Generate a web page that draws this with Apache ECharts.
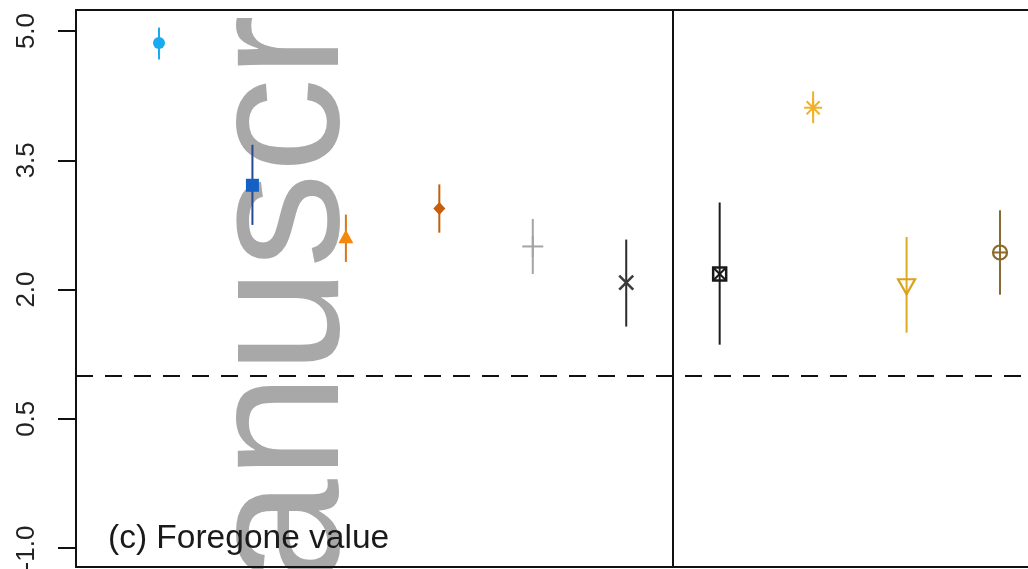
<!DOCTYPE html>
<html>
<head>
<meta charset="utf-8">
<script src="https://cdn.jsdelivr.net/npm/echarts@6/dist/echarts.min.js"></script>
<style>
  html, body { margin: 0; padding: 0; background: #ffffff; overflow: hidden; }
  #chart { width: 1100px; height: 569px; }
</style>
</head>
<body>
<div id="chart"></div>
<script>
// Estimates with lower / upper interval bounds, one entry per group
const positions = [1, 2, 3, 4, 5, 6, 7, 8, 9, 10];
const estimates = [4.86, 3.21, 2.60, 2.94, 2.50, 2.08, 2.18, 4.11, 2.05, 2.43];
const lowerCI   = [4.67, 2.75, 2.32, 2.66, 2.18, 1.57, 1.36, 3.93, 1.50, 1.94];
const upperCI   = [5.04, 3.68, 2.87, 3.22, 2.82, 2.58, 3.01, 4.30, 2.61, 2.92];
const yTicks    = [-1.0, 0.5, 2.0, 3.5, 5.0];
const referenceLevel = 1.0;
const panelSplit = 6.5;
const panelLabel = '(c) Foregone value';
const watermark = 'anuscr';

// Marker appearance per group
const markerStyles = [
  { shape: 'circle',     color: '#1aaaf0', bar: '#1aaaf0' },
  { shape: 'square',     color: '#1560c4', bar: '#274a8c' },
  { shape: 'triUp',      color: '#f5880a', bar: '#d8761a' },
  { shape: 'diamond',    color: '#c85e0c', bar: '#c0600e' },
  { shape: 'plus',       color: '#a4a4a4', bar: '#a4a4a4' },
  { shape: 'cross',      color: '#3c3c3c', bar: '#2c2c2c' },
  { shape: 'boxCross',   color: '#1a1a1a', bar: '#1e1e1e' },
  { shape: 'star',       color: '#f2b022', bar: '#efb030' },
  { shape: 'triDownOpen',color: '#d9a21b', bar: '#e0aa22' },
  { shape: 'circlePlus', color: '#8c6a2a', bar: '#8a6a34' }
];

const seriesData = positions.map((x, i) => [x, estimates[i], lowerCI[i], upperCI[i]]);

function markerGraphics(shape, cx, cy, color) {
  const s = { stroke: color, lineWidth: 2, fill: null };
  switch (shape) {
    case 'circle':
      return [{ type: 'circle', shape: { cx, cy, r: 6 }, style: { fill: color } }];
    case 'square':
      return [{ type: 'rect', shape: { x: cx - 6.5, y: cy - 6.5, width: 13, height: 13 }, style: { fill: color } }];
    case 'triUp':
      return [{ type: 'polygon', shape: { points: [[cx, cy - 8], [cx + 7.5, cy + 5.5], [cx - 7.5, cy + 5.5]] }, style: { fill: color } }];
    case 'diamond':
      return [{ type: 'polygon', shape: { points: [[cx, cy - 6.5], [cx + 6, cy], [cx, cy + 6.5], [cx - 6, cy]] }, style: { fill: color } }];
    case 'plus':
      return [
        { type: 'line', shape: { x1: cx - 10.5, y1: cy, x2: cx + 10.5, y2: cy }, style: s },
        { type: 'line', shape: { x1: cx, y1: cy - 10.5, x2: cx, y2: cy + 10.5 }, style: s }
      ];
    case 'cross':
      return [
        { type: 'line', shape: { x1: cx - 7, y1: cy - 7, x2: cx + 7, y2: cy + 7 }, style: Object.assign({}, s, { lineWidth: 2.5 }) },
        { type: 'line', shape: { x1: cx - 7, y1: cy + 7, x2: cx + 7, y2: cy - 7 }, style: Object.assign({}, s, { lineWidth: 2.5 }) }
      ];
    case 'boxCross':
      return [
        { type: 'rect', shape: { x: cx - 6.5, y: cy - 6.5, width: 13, height: 13 }, style: Object.assign({}, s, { lineWidth: 2.5 }) },
        { type: 'line', shape: { x1: cx - 6.5, y1: cy - 6.5, x2: cx + 6.5, y2: cy + 6.5 }, style: s },
        { type: 'line', shape: { x1: cx - 6.5, y1: cy + 6.5, x2: cx + 6.5, y2: cy - 6.5 }, style: s }
      ];
    case 'star':
      return [
        { type: 'line', shape: { x1: cx - 9, y1: cy, x2: cx + 9, y2: cy }, style: s },
        { type: 'line', shape: { x1: cx, y1: cy - 9, x2: cx, y2: cy + 9 }, style: s },
        { type: 'line', shape: { x1: cx - 6.5, y1: cy - 6.5, x2: cx + 6.5, y2: cy + 6.5 }, style: s },
        { type: 'line', shape: { x1: cx - 6.5, y1: cy + 6.5, x2: cx + 6.5, y2: cy - 6.5 }, style: s }
      ];
    case 'triDownOpen':
      return [{ type: 'polygon', shape: { points: [[cx - 8.5, cy - 6], [cx + 8.5, cy - 6], [cx, cy + 9]] }, style: Object.assign({}, s, { lineWidth: 2.2 }) }];
    case 'circlePlus':
      return [
        { type: 'circle', shape: { cx, cy, r: 7 }, style: Object.assign({}, s, { lineWidth: 2.2 }) },
        { type: 'line', shape: { x1: cx - 7, y1: cy, x2: cx + 7, y2: cy }, style: s },
        { type: 'line', shape: { x1: cx, y1: cy - 7, x2: cx, y2: cy + 7 }, style: s }
      ];
  }
  return [];
}

const chart = echarts.init(document.getElementById('chart'), null, { renderer: 'canvas' });

const frameLine = { show: true, onZero: false, lineStyle: { color: '#111111', width: 2 } };
// The panel runs on past the visible right edge of the page
const xRange = { type: 'value', min: 0.112, max: 10.888 };

chart.setOption({
  backgroundColor: '#ffffff',
  animation: false,
  grid: {
    left: 76, top: 10, width: 1007, bottom: 2,
    outerBoundsMode: 'none', containLabel: false, show: false
  },
  xAxis: [
    Object.assign({}, xRange, {
      position: 'bottom', axisLine: frameLine, axisTick: { show: false },
      axisLabel: { show: false }, splitLine: { show: false }
    }),
    Object.assign({}, xRange, {
      position: 'top', axisLine: frameLine, axisTick: { show: false },
      axisLabel: { show: false }, splitLine: { show: false }
    })
  ],
  yAxis: {
    type: 'value', min: -1.22, max: 5.244,
    axisLine: frameLine,
    axisTick: {
      show: true, inside: false, length: 18,
      customValues: yTicks,
      lineStyle: { color: '#111111', width: 2 }
    },
    axisLabel: {
      show: true, rotate: 90, margin: 36,
      customValues: yTicks,
      formatter: v => v.toFixed(1),
      fontFamily: 'Liberation Sans, Arial, sans-serif', fontSize: 26, color: '#222222'
    },
    splitLine: { show: false }
  },
  graphic: [
    {
      type: 'text', z: -10, silent: true,
      x: 286, y: 585, rotation: Math.PI / 2,
      style: {
        text: watermark, fill: '#a8a8a8',
        font: '190px "Liberation Sans", Arial, sans-serif',
        align: 'left', verticalAlign: 'middle'
      }
    },
    {
      type: 'text', z: 100, silent: true,
      x: 108, y: 539,
      style: {
        text: panelLabel, fill: '#1a1a1a',
        font: '33.5px "Liberation Sans", Arial, sans-serif',
        align: 'left', verticalAlign: 'middle'
      }
    }
  ],
  series: [
    {
      type: 'line', data: [], silent: true,
      markLine: {
        symbol: 'none', silent: true, label: { show: false },
        data: [
          { yAxis: referenceLevel, lineStyle: { color: '#111111', width: 2, type: [17, 12] } },
          { xAxis: panelSplit, lineStyle: { color: '#111111', width: 2, type: 'solid' } }
        ]
      }
    },
    {
      type: 'custom', data: seriesData, clip: false, z: 5,
      renderItem: function (params, api) {
        const i = params.dataIndex;
        const st = markerStyles[i];
        const c = api.coord([api.value(0), api.value(1)]);
        const lo = api.coord([api.value(0), api.value(2)]);
        const hi = api.coord([api.value(0), api.value(3)]);
        const children = [
          { type: 'line', shape: { x1: lo[0], y1: lo[1], x2: hi[0], y2: hi[1] }, style: { stroke: st.bar, lineWidth: 2 } }
        ].concat(markerGraphics(st.shape, c[0], c[1], st.color));
        return { type: 'group', children };
      }
    }
  ]
});
</script>
</body>
</html>
